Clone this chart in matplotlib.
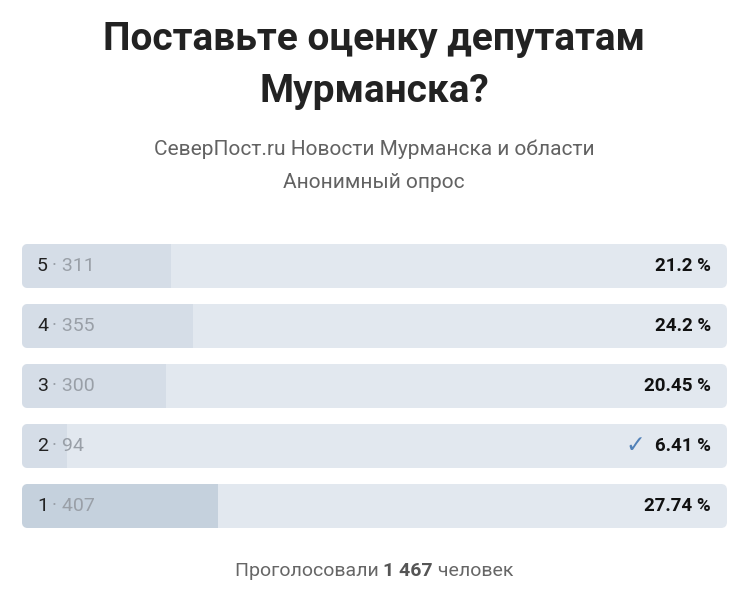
import matplotlib
matplotlib.use("Agg")
import matplotlib.pyplot as plt
from matplotlib.patches import FancyBboxPatch

plt.rcParams['font.family'] = ['Roboto', 'DejaVu Sans']

title_lines = ['Поставьте оценку депутатам', 'Мурманска?']
subtitle_lines = ['СеверПост.ru Новости Мурманска и области', 'Анонимный опрос']
options = ['5', '4', '3', '2', '1']
votes = [311, 355, 300, 94, 407]
percents = [21.2, 24.2, 20.45, 6.41, 27.74]
pct_labels = ['21.2 %', '24.2 %', '20.45 %', '6.41 %', '27.74 %']
my_choice = '2'
total_votes = '1 467'

W, H = 751, 597
fig = plt.figure(figsize=(W / 100, H / 100), dpi=100)
fig.patch.set_facecolor('white')

def fy(px):
    return 1 - px / H

# title and subtitle
for i, line in enumerate(title_lines):
    fig.text(374 / W, fy(39 + 52 * i), line, ha='center', va='center',
             fontsize=28, fontweight='bold', color='#222222')
for i, line in enumerate(subtitle_lines):
    fig.text(374 / W, fy(149 + 34 * i), line, ha='center', va='center',
             fontsize=15, color='#626262')

# bars
ax = fig.add_axes([22 / W, (H - 536) / H, 705 / W, 300 / H])
ax.set_xlim(0, 100)
ax.set_ylim(len(options) - 0.5, -0.5)
ax.set_axis_off()

bar_h = 44 / 60
px_x = 705 / 100          # pixels per x unit
r_px = 6
r_x = r_px / px_x
aspect = (r_px / 60) / r_x
max_votes = max(votes)

for i, (opt, n, p, lab) in enumerate(zip(options, votes, percents, pct_labels)):
    track = FancyBboxPatch((0, i - bar_h / 2), 100, bar_h,
                           boxstyle=f'round,pad=0,rounding_size={r_x}',
                           mutation_aspect=aspect, facecolor='#e2e8ef',
                           edgecolor='none')
    ax.add_patch(track)
    fill_c = '#c5d1dd' if n == max_votes else '#d5dde7'
    bars = ax.barh(i, p, height=bar_h, left=0, color=fill_c)
    for b in bars:
        b.set_clip_path(track)

    t1 = ax.annotate(opt, xy=(0, i), xytext=(15, 0), textcoords='offset pixels',
                     ha='left', va='center', fontsize=14, color='#222222')
    fig.canvas.draw()
    w1 = t1.get_window_extent().width
    ax.annotate(f'\u00b7 {n}', xy=(0, i), xytext=(15 + w1 + 4, 0),
                textcoords='offset pixels', ha='left', va='center',
                fontsize=14, color='#999fa7')

    tp = ax.annotate(lab, xy=(100, i), xytext=(-16, 0), textcoords='offset pixels',
                     ha='right', va='center', fontsize=13.5, fontweight='bold',
                     color='#111111')
    if opt == my_choice:
        fig.canvas.draw()
        wp = tp.get_window_extent().width
        ax.annotate('\u2713', xy=(100, i), xytext=(-16 - wp - 10, 1),
                    textcoords='offset pixels', ha='right', va='center',
                    fontsize=17, fontweight='bold', color='#5181b8',
                    family='DejaVu Sans')

# footer
parts = [('Проголосовали ', 'normal', '#666666'),
         (total_votes, 'bold', '#555555'),
         (' человек', 'normal', '#666666')]
fig.canvas.draw()
renderer = fig.canvas.get_renderer()
texts = []
for s, wgt, c in parts:
    t = fig.text(0, fy(571), s, ha='left', va='center', fontsize=14,
                 fontweight=wgt, color=c)
    texts.append(t)
widths = [t.get_window_extent(renderer).width for t in texts]
x = 374 - sum(widths) / 2
for t, w in zip(texts, widths):
    t.set_x(x / W)
    x += w

fig.savefig('out.png', dpi=100, facecolor='white')
